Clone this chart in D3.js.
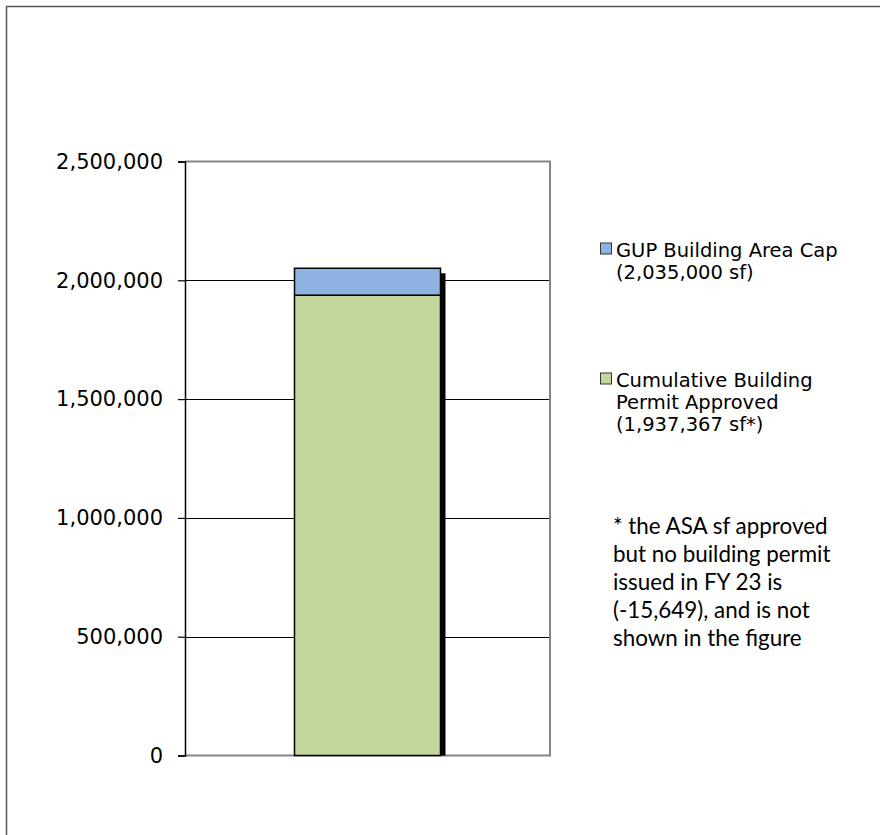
<!DOCTYPE html>
<html>
<head>
<meta charset="utf-8">
<script src="https://cdn.jsdelivr.net/npm/d3@7"></script>
<style>
  html, body { margin: 0; padding: 0; background: #fff; }
  svg { display: block; }
</style>
</head>
<body>
<svg id="chart" width="880" height="835"></svg>
<script>
// Single stacked column: approved building area plus remaining area under the cap
const categories = ["FY 23"];
const approvedValues = [1937367];
const remainingValues = [113282];
const tickValues = [0, 500000, 1000000, 1500000, 2000000, 2500000];
const legendLabels = [
  ["GUP Building Area Cap", "(2,035,000 sf)"],
  ["Cumulative Building", "Permit Approved", "(1,937,367 sf*)"]
];
const noteLines = [
  "* the ASA sf approved",
  "but no building permit",
  "issued in FY 23 is",
  "(-15,649), and is not",
  "shown in the figure"
];

const colors = { remaining: "#8DB3E2", approved: "#C3D69B" };

const svg = d3.select("#chart");

// Outer frame
svg.append("path")
  .attr("d", "M6.5,835 L6.5,6.5 L880,6.5")
  .attr("fill", "none")
  .attr("stroke", "#555")
  .attr("stroke-width", 1.5);

const plot = { left: 185, right: 550, top: 161.5, bottom: 755.5 };

const y = d3.scaleLinear()
  .domain([0, 2500000])
  .range([plot.bottom, plot.top]);

const x = d3.scaleBand()
  .domain(categories)
  .range([plot.left, plot.right])
  .paddingInner(0.4286)
  .paddingOuter(0.4286);

// Horizontal gridlines
svg.append("g")
  .selectAll("line")
  .data(tickValues.filter(v => v > 0 && v < 2500000))
  .join("line")
  .attr("x1", plot.left).attr("x2", plot.right)
  .attr("y1", d => Math.round(y(d)) + 0.5).attr("y2", d => Math.round(y(d)) + 0.5)
  .attr("stroke", "#000").attr("stroke-width", 1);

// Plot area border (top, right, bottom)
svg.append("path")
  .attr("d", `M${plot.left},${plot.top} L${plot.right},${plot.top} L${plot.right},${plot.bottom} L${plot.left},${plot.bottom}`)
  .attr("fill", "none")
  .attr("stroke", "#868686")
  .attr("stroke-width", 2);

// Stack the two series
const rows = categories.map((c, i) => ({ cat: c, approved: approvedValues[i], remaining: remainingValues[i] }));
const stack = d3.stack().keys(["approved", "remaining"])(rows);

// Drop shadow on the right edge of the column
rows.forEach(r => {
  const total = r.approved + r.remaining;
  svg.append("rect")
    .attr("x", x(r.cat) + x.bandwidth())
    .attr("y", y(total) + 5)
    .attr("width", 5)
    .attr("height", plot.bottom - y(total) - 5)
    .attr("fill", "#000");
});

stack.forEach(layer => {
  svg.append("g")
    .selectAll("rect")
    .data(layer)
    .join("rect")
    .attr("x", d => x(d.data.cat))
    .attr("width", x.bandwidth())
    .attr("y", d => y(d[1]))
    .attr("height", d => y(d[0]) - y(d[1]))
    .attr("fill", colors[layer.key])
    .attr("stroke", "#000")
    .attr("stroke-width", 1.5);
});

// Left axis
const axis = d3.axisLeft(y)
  .tickValues(tickValues)
  .tickSize(7)
  .tickPadding(15)
  .tickFormat(d3.format(","));

const gAxis = svg.append("g")
  .attr("transform", `translate(${plot.left},0)`)
  .call(axis);
gAxis.select(".domain").attr("stroke", "#000").attr("stroke-width", 1.5);
gAxis.selectAll(".tick line").attr("stroke", "#000").attr("stroke-width", 1.2);
gAxis.selectAll(".tick text")
  .attr("font-family", "DejaVu Sans, Verdana, sans-serif")
  .attr("font-size", 21)
  .attr("fill", "#000");

// Legend
const legendItems = [
  { key: "remaining", lines: legendLabels[0], top: 243 },
  { key: "approved", lines: legendLabels[1], top: 373 }
];
legendItems.forEach(item => {
  svg.append("rect")
    .attr("x", 600.5).attr("y", item.top)
    .attr("width", 11).attr("height", 11)
    .attr("fill", colors[item.key])
    .attr("stroke", "#333").attr("stroke-width", 1);
  svg.append("text")
    .attr("font-family", "DejaVu Sans, Verdana, sans-serif")
    .attr("font-size", 19.5)
    .attr("fill", "#000")
    .selectAll("tspan")
    .data(item.lines)
    .join("tspan")
    .attr("x", 616)
    .attr("y", (d, i) => item.top + 14 + i * 22)
    .text(d => d);
});

// Footnote
svg.append("text")
  .attr("font-family", "Lato, 'Open Sans', sans-serif")
  .attr("font-size", 22.4)
  .attr("fill", "#000")
  .selectAll("tspan")
  .data(noteLines)
  .join("tspan")
  .attr("x", 613)
  .attr("y", (d, i) => 534 + i * 28)
  .text(d => d);
</script>
</body>
</html>
